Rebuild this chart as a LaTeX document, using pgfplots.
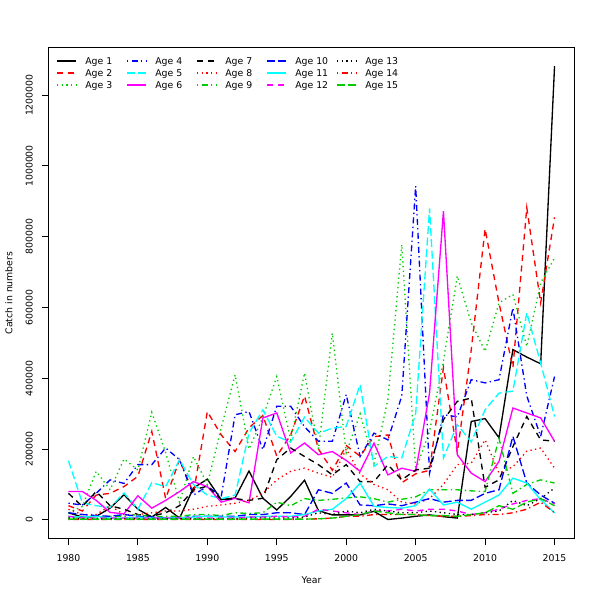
\documentclass[border=0pt]{standalone}
\usepackage{fontspec}
\setmainfont{DejaVu Sans}
\usepackage{pgfplots}
\usepackage{pgfplotstable}
\pgfplotsset{compat=1.18}
\definecolor{Rblack}{RGB}{0,0,0}
\definecolor{Rred}{RGB}{255,0,0}
\definecolor{Rgreen}{RGB}{0,205,0}
\definecolor{Rblue}{RGB}{0,0,255}
\definecolor{Rcyan}{RGB}{0,255,255}
\definecolor{Rmagenta}{RGB}{255,0,255}
\tikzset{
 ltyA/.style={solid},
 ltyB/.style={dash pattern=on 4.5pt off 3.5pt},
 ltyC/.style={dash pattern=on 1pt off 2.5pt},
 ltyD/.style={dash pattern=on 1pt off 2.5pt on 4.5pt off 2.5pt},
 ltyE/.style={dash pattern=on 6pt off 2.5pt},
}
\pgfplotstableread{
year a1 a2 a3 a4 a5 a6 a7 a8 a9 a10 a11 a12 a13 a14 a15
1980 20000 40000 20000 47000 167000 80000 75000 30000 5000 20000 10000 10000 5000 1000 2000
1981 8000 25000 38000 42000 48000 80000 38000 15000 5000 15000 8000 5000 3000 1000 2000
1982 10000 70000 137000 75000 40000 55000 80000 15000 8000 12000 10000 5000 3000 1000 2000
1983 33000 75000 85000 113000 35000 21000 40000 40000 10000 10000 5000 5000 3000 1000 2000
1984 71000 94000 172000 103000 76000 17000 30000 15000 10000 15000 5000 5000 3000 1000 2000
1985 30000 123000 141000 156000 30000 68000 15000 15000 15000 10000 8000 5000 3000 1000 2000
1986 8000 250000 304000 156000 105000 33000 10000 20000 8000 8000 5000 5000 3000 1000 2000
1987 35000 60000 190000 203000 94000 55000 20000 25000 10000 5000 5000 5000 3000 1000 2000
1988 5000 170000 50000 170000 170000 80000 40000 25000 10000 5000 5000 5000 3000 1000 2000
1989 90000 75000 179000 70000 100000 108000 85000 30000 15000 10000 8000 5000 3000 1000 2000
1990 115000 306000 100000 95000 70000 94000 95000 38000 15000 10000 10000 5000 3000 1000 2000
1991 57000 240000 260000 66000 60000 50000 57000 42000 12000 10000 8000 5000 3000 1000 2000
1992 62000 193000 410000 297000 70000 61000 60000 47000 20000 10000 8000 5000 3000 1000 2000
1993 138000 260000 200000 306000 245000 48000 55000 55000 18000 15000 8000 8000 5000 1000 2000
1994 61000 295000 290000 198000 311000 288000 61000 75000 20000 15000 10000 8000 5000 1000 2000
1995 28000 180000 405000 321000 236000 302000 170000 113000 50000 20000 10000 10000 5000 1000 2000
1996 66000 240000 226000 321000 220000 189000 203000 137000 40000 20000 10000 8000 5000 1000 2000
1997 112000 350000 415000 263000 290000 217000 179000 146000 60000 15000 15000 10000 8000 2000 2000
1998 26000 200000 200000 222000 245000 184000 156000 132000 55000 85000 25000 30000 20000 3000 3000
1999 14000 140000 528000 222000 259000 193000 127000 120000 58000 75000 30000 25000 15000 5000 5000
2000 14000 210000 190000 354000 264000 168000 156000 200000 62000 104000 60000 20000 25000 10000 10000
2001 14000 180000 300000 179000 382000 137000 108000 130000 65000 42000 104000 15000 20000 10000 15000
2002 24000 235000 160000 245000 151000 217000 108000 100000 60000 40000 38000 25000 30000 15000 25000
2003 1000 240000 340000 226000 179000 127000 156000 85000 50000 45000 35000 25000 25000 15000 20000
2004 5000 105000 778000 350000 175000 146000 113000 50000 58000 40000 33000 30000 20000 15000 15000
2005 10000 130000 141000 943000 300000 137000 141000 45000 65000 50000 40000 25000 20000 15000 15000
2006 14000 140000 250000 132000 880000 358000 146000 60000 85000 60000 87000 30000 25000 12000 12000
2007 9000 430000 450000 297000 175000 872000 283000 100000 85000 50000 42000 30000 20000 10000 12000
2008 5000 190000 689000 291000 269000 184000 335000 156000 85000 55000 50000 25000 15000 10000 10000
2009 278000 480000 557000 396000 220000 132000 344000 160000 82000 55000 30000 15000 15000 12000 15000
2010 286000 822000 476000 387000 311000 108000 92000 226000 80000 75000 50000 20000 20000 15000 20000
2011 232000 613000 613000 396000 358000 165000 113000 132000 230000 85000 70000 30000 25000 15000 40000
2012 481000 430000 637000 599000 364000 316000 207000 150000 75000 236000 118000 45000 55000 20000 30000
2013 460000 882000 490000 350000 585000 302000 292000 194000 100000 104000 104000 55000 40000 30000 50000
2014 441000 613000 670000 236000 443000 288000 226000 203000 113000 70000 57000 60000 60000 50000 60000
2015 1282000 855000 740000 405000 292000 222000 222000 146000 104000 47000 20000 45000 90000 20000 40000
}\data
\begin{document}
\begin{tikzpicture}
\path[use as bounding box] (-36.75pt,-46.5pt) rectangle (413.25pt,403.5pt);
\begin{axis}[
 at={(0pt,0pt)}, anchor=south west,
 scale only axis, width=393.75pt, height=367.5pt,
 xmin=1978.6, xmax=2016.4, ymin=-51280, ymax=1333280,
 axis line style={line width=0.75pt, black},
 xtick={1980,1985,...,2015},
 ytick={0,200000,400000,600000,800000,1000000,1200000},
 scaled y ticks=false, scaled x ticks=false,
 xtick pos=bottom, ytick pos=left,
 tick align=outside, major tick length=5.25pt,
 tick style={line width=0.75pt, black},
 /pgf/number format/1000 sep={},
 /pgf/number format/assume math mode=true,
 yticklabel style={/pgf/number format/fixed, rotate=90, anchor=south, inner sep=0pt, font=\fontsize{7}{8}\selectfont},
 xticklabel style={anchor=north, inner sep=0pt, font=\fontsize{7}{8}\selectfont},
 yticklabel shift=6.75pt,
 xticklabel shift=7pt,
 xlabel={Year}, ylabel={Catch in numbers},
 xlabel style={at={([yshift=-28.5pt]axis description cs:0.5,0)}, anchor=north, inner sep=0pt, font=\fontsize{7}{8}\selectfont},
 ylabel style={at={([xshift=-27.4pt]axis description cs:0,0.5)}, anchor=base, inner sep=0pt, font=\fontsize{7}{8}\selectfont},
 every axis plot/.append style={line width=1pt},
]
\addplot[Rblack, ltyA] table[x=year,y=a1]{\data};
\addplot[Rred, ltyB] table[x=year,y=a2]{\data};
\addplot[Rgreen, ltyC] table[x=year,y=a3]{\data};
\addplot[Rblue, ltyD] table[x=year,y=a4]{\data};
\addplot[Rcyan, ltyE] table[x=year,y=a5]{\data};
\addplot[Rmagenta, ltyA] table[x=year,y=a6]{\data};
\addplot[Rblack, ltyB] table[x=year,y=a7]{\data};
\addplot[Rred, ltyC] table[x=year,y=a8]{\data};
\addplot[Rgreen, ltyD] table[x=year,y=a9]{\data};
\addplot[Rblue, ltyE] table[x=year,y=a10]{\data};
\addplot[Rcyan, ltyA] table[x=year,y=a11]{\data};
\addplot[Rmagenta, ltyB] table[x=year,y=a12]{\data};
\addplot[Rblack, ltyC] table[x=year,y=a13]{\data};
\addplot[Rred, ltyD] table[x=year,y=a14]{\data};
\addplot[Rgreen, ltyE] table[x=year,y=a15]{\data};
\end{axis}
% legend (5 columns x 3 rows, filled column by column)
\foreach \lab/\col/\sty [count=\i from 0] in {
  Age 1/Rblack/ltyA, Age 2/Rred/ltyB, Age 3/Rgreen/ltyC,
  Age 4/Rblue/ltyD, Age 5/Rcyan/ltyE, Age 6/Rmagenta/ltyA,
  Age 7/Rblack/ltyB, Age 8/Rred/ltyC, Age 9/Rgreen/ltyD,
  Age 10/Rblue/ltyE, Age 11/Rcyan/ltyA, Age 12/Rmagenta/ltyB,
  Age 13/Rblack/ltyC, Age 14/Rred/ltyD, Age 15/Rgreen/ltyE}{
  \pgfmathtruncatemacro{\cc}{int(\i/3)}
  \pgfmathtruncatemacro{\rr}{\i-3*\cc}
  \pgfmathsetmacro{\xx}{6+52.5*\cc}
  \pgfmathsetmacro{\yy}{357.75-9*\rr}
  \draw[\col, \sty, line width=1.2pt] (\xx pt,\yy pt) -- ++(14.25pt,0pt);
  \node[anchor=mid west, inner sep=0pt, font=\fontsize{7}{8.4}\selectfont] at (\xx pt+21pt,\yy pt) {\lab};
}
\end{tikzpicture}
\end{document}
